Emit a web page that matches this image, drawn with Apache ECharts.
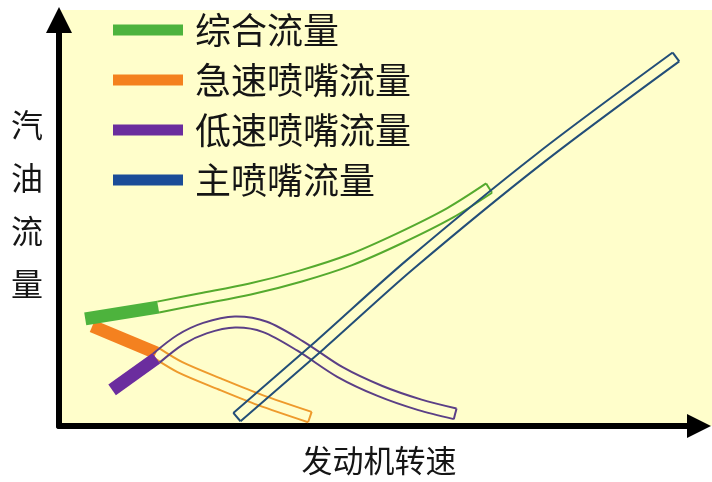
<!DOCTYPE html>
<html>
<head>
<meta charset="utf-8">
<script src="https://cdn.jsdelivr.net/npm/echarts@6/dist/echarts.min.js"></script>
<style>
  html, body { margin: 0; padding: 0; background: #fff; }
  #chart { width: 712px; height: 482px; }
</style>
</head>
<body>
<div id="chart"></div>
<script>
// series names (legend order)
var names = ['综合流量', '急速喷嘴流量', '低速喷嘴流量', '主喷嘴流量'];

// 综合流量
var totalX = [4.1, 15.5, 22.0, 29.8, 37.7, 45.5, 53.3, 61.1, 67.2];
var totalY = [26.4, 29.3, 31.3, 33.7, 36.9, 40.9, 46.3, 52.5, 58.6];
// 急速喷嘴流量
var idleX = [5.2, 15.2, 18.9, 25.2, 31.4, 39.2];
var idleY = [24.6, 18.0, 14.5, 10.3, 6.4, 2.2];
// 低速喷嘴流量
var lowX = [8.3, 15.2, 18.9, 22.8, 27.5, 32.2, 37.7, 43.9, 50.2, 56.4, 61.9];
var lowY = [8.9, 16.7, 21.2, 24.1, 25.6, 24.4, 19.7, 13.3, 8.6, 5.2, 3.0];
// 主喷嘴流量
var mainX = [27.8, 40.8, 54.8, 75.2, 96.4];
var mainY = [2.2, 20.0, 39.7, 66.0, 90.9];

var chart = echarts.init(document.getElementById('chart'));

// draws a curve as a hollow tube, first "solid" points as a filled band
function tube(name, xs, ys, color, lineColor, solid) {
  return {
    name: name,
    type: 'custom',
    coordinateSystem: 'cartesian2d',
    clip: false,
    itemStyle: { color: color },
    data: xs.map(function (x, i) { return [x, ys[i]]; }),
    renderItem: function (params, api) {
      if (params.dataIndex !== 0) return null;
      var pts = xs.map(function (x, i) { return api.coord([x, ys[i]]); });
      var n = pts.length;
      var norms = pts.map(function (p, i) {
        var a = pts[Math.max(i - 1, 0)], b = pts[Math.min(i + 1, n - 1)];
        var dx = b[0] - a[0], dy = b[1] - a[1], l = Math.hypot(dx, dy);
        return [-dy / l, dx / l];
      });
      function side(i, h) {
        return [pts[i][0] + norms[i][0] * h, pts[i][1] + norms[i][1] * h];
      }
      var children = [];
      var hs = 6.5, ht = 5.5;
      if (solid > 1) {
        var poly = [];
        for (var i = 0; i < solid; i++) poly.push(side(i, hs));
        for (var j = solid - 1; j >= 0; j--) poly.push(side(j, -hs));
        children.push({ type: 'polygon', shape: { points: poly }, style: { fill: color } });
      }
      var k = solid > 1 ? solid - 1 : 0;
      var left = [], right = [];
      for (var m = k; m < n; m++) { left.push(side(m, ht)); right.push(side(m, -ht)); }
      var ls = { stroke: lineColor, lineWidth: 2, fill: null };
      children.push({ type: 'polyline', shape: { points: left, smooth: 0.3 }, style: ls });
      children.push({ type: 'polyline', shape: { points: right, smooth: 0.3 }, style: ls });
      children.push({ type: 'polyline', shape: { points: [left[left.length - 1], right[right.length - 1]] }, style: ls });
      if (solid <= 1) {
        children.push({ type: 'polyline', shape: { points: [left[0], right[0]] }, style: ls });
      }
      return { type: 'group', children: children };
    }
  };
}

var arrowHead = 'path://M0,0 L10,20 L-10,20 Z';

var option = {
  animation: false,
  graphic: [{
    type: 'rect', z: -10, silent: true,
    shape: { x: 59, y: 10, width: 653, height: 416 },
    style: { fill: '#FFFECB' }
  }],
  legend: {
    data: names,
    orient: 'vertical',
    left: 108,
    top: 7,
    icon: 'rect',
    itemWidth: 70,
    itemHeight: 11,
    itemGap: 14,
    textStyle: {
      fontSize: 36, lineHeight: 36, color: '#151515',
      fontFamily: 'Noto Sans CJK SC', padding: [0, 0, 0, 7]
    }
  },
  grid: { left: 59, right: 13, top: 20, bottom: 56 },
  xAxis: {
    type: 'value', min: 0, max: 100,
    name: '发动机转速', nameLocation: 'middle', nameGap: 19,
    nameTextStyle: { fontSize: 31, color: '#151515', fontFamily: 'Noto Sans CJK SC' },
    axisLine: {
      lineStyle: { color: '#000', width: 6 },
      symbol: ['none', arrowHead], symbolSize: [32, 24]
    },
    axisTick: { show: false }, axisLabel: { show: false }, splitLine: { show: false }
  },
  yAxis: {
    type: 'value', min: 0, max: 100,
    name: '汽\n油\n流\n量\n{s| }', nameLocation: 'middle', nameRotate: 0, nameGap: 16,
    nameTextStyle: {
      fontSize: 32, lineHeight: 53, color: '#151515',
      fontFamily: 'Noto Sans CJK SC',
      rich: { s: { fontSize: 2, lineHeight: 38 } }
    },
    axisLine: {
      show: true, lineStyle: { color: '#000', width: 6 },
      symbol: ['none', arrowHead], symbolSize: [32, 26]
    },
    axisTick: { show: false }, axisLabel: { show: false }, splitLine: { show: false }
  },
  series: [
    tube(names[1], idleX, idleY, '#F4811F', '#EE9A2C', 2),
    tube(names[2], lowX, lowY, '#6B2D9E', '#5B3F86', 2),
    tube(names[0], totalX, totalY, '#4DB33D', '#55AA2E', 2),
    tube(names[3], mainX, mainY, '#1B4C98', '#234E78', 0)
  ]
};
chart.setOption(option);
</script>
</body>
</html>
